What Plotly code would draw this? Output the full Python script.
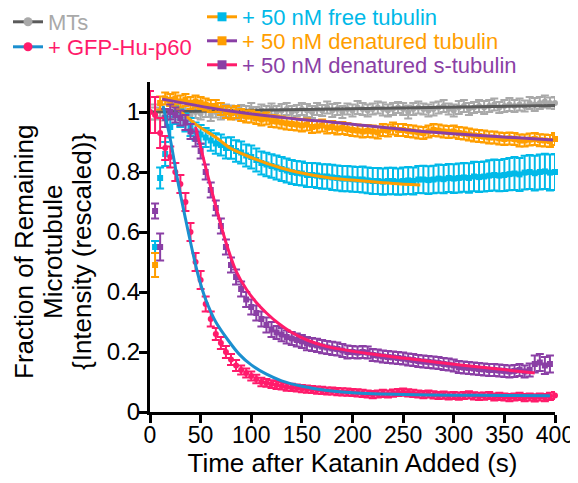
import plotly.graph_objects as go

# ---------------- data ----------------
t_mts = list(range(0, 405, 5))
mts = [1.000, 0.995, 1.005, 0.990, 1.000, 1.005, 0.995, 1.000, 0.990, 1.000,
       0.995, 1.005, 0.990, 1.000, 0.995, 1.005, 1.000, 0.995, 1.005, 1.000,
       1.010, 0.995, 1.005, 1.000, 1.010, 1.000, 1.005, 1.010, 1.000, 1.005,
       1.010, 1.005, 1.000, 1.010, 1.005, 1.015, 1.005, 1.010, 1.000, 1.010,
       1.005, 1.015, 1.010, 1.005, 1.010, 1.015, 1.010, 1.005, 1.010, 1.015,
       1.010, 1.000, 1.010, 1.015, 1.010, 1.005, 1.010, 1.015, 1.020, 1.010,
       1.005, 1.015, 1.020, 1.010, 1.015, 1.020, 1.015, 1.020, 1.025, 1.015,
       1.020, 1.025, 1.020, 1.025, 1.020, 1.030, 1.025, 1.030, 1.035, 1.030,
       1.030]
mts_err = [0.025, 0.020, 0.020, 0.018, 0.020, 0.022, 0.020, 0.018, 0.020, 0.020,
           0.020, 0.022, 0.020, 0.018, 0.020, 0.020, 0.022, 0.020, 0.018, 0.020,
           0.020, 0.022, 0.020, 0.020, 0.018, 0.020, 0.022, 0.020, 0.020, 0.018,
           0.020, 0.022, 0.020, 0.020, 0.018, 0.020, 0.022, 0.020, 0.020, 0.018,
           0.020, 0.022, 0.020, 0.020, 0.018, 0.020, 0.022, 0.020, 0.020, 0.018,
           0.020, 0.022, 0.020, 0.020, 0.018, 0.020, 0.022, 0.020, 0.020, 0.018,
           0.020, 0.022, 0.020, 0.020, 0.018, 0.020, 0.022, 0.020, 0.020, 0.018,
           0.020, 0.022, 0.020, 0.020, 0.018, 0.020, 0.022, 0.020, 0.020, 0.018,
           0.020]
t_mts_fit = [0, 400]
mts_fit = [1.000, 1.022]

t_p60 = list(range(0, 405, 5))
p60 = [1.000, 0.990, 0.930, 0.880, 0.850, 0.800, 0.760, 0.700, 0.600, 0.500,
       0.440, 0.360, 0.310, 0.260, 0.230, 0.200, 0.175, 0.155, 0.140, 0.130,
       0.120, 0.110, 0.100, 0.097, 0.093, 0.090, 0.087, 0.083, 0.082, 0.080,
       0.078, 0.076, 0.075, 0.073, 0.072, 0.070, 0.070, 0.068, 0.067, 0.066,
       0.065, 0.064, 0.062, 0.060, 0.058, 0.060, 0.062, 0.060, 0.063, 0.065,
       0.066, 0.064, 0.062, 0.060, 0.058, 0.060, 0.057, 0.055, 0.056, 0.054,
       0.055, 0.053, 0.055, 0.057, 0.054, 0.052, 0.053, 0.055, 0.050, 0.052,
       0.050, 0.048, 0.050, 0.052, 0.048, 0.050, 0.047, 0.050, 0.048, 0.052,
       0.055]
p60_err = [0.070, 0.060, 0.050, 0.040, 0.035, 0.030, 0.030, 0.030, 0.030, 0.030,
           0.030, 0.025, 0.025, 0.020, 0.020, 0.020, 0.018, 0.018, 0.015, 0.015,
           0.015, 0.014, 0.014, 0.013, 0.013, 0.013, 0.012, 0.012, 0.012, 0.012,
           0.012, 0.012, 0.012, 0.012, 0.012, 0.012, 0.012, 0.012, 0.012, 0.012,
           0.012, 0.012, 0.012, 0.012, 0.012, 0.012, 0.012, 0.012, 0.012, 0.012,
           0.012, 0.012, 0.012, 0.012, 0.012, 0.012, 0.012, 0.012, 0.012, 0.012,
           0.012, 0.012, 0.012, 0.012, 0.012, 0.012, 0.012, 0.012, 0.012, 0.012,
           0.012, 0.012, 0.012, 0.012, 0.012, 0.012, 0.012, 0.012, 0.012, 0.012,
           0.012]
t_p60_fit = [13, 20, 28, 35, 42, 48, 55, 65, 77, 88, 100, 115, 130, 150, 175, 200, 250, 300, 350, 395]
p60_fit = [1.02, 0.91, 0.76, 0.645, 0.535, 0.45, 0.375, 0.30, 0.24, 0.193, 0.157, 0.126, 0.104,
           0.086, 0.072, 0.064, 0.058, 0.056, 0.055, 0.054]

t_free = list(range(5, 405, 5))
free = [0.550, 0.780, 0.860, 0.950, 0.990, 0.980, 0.965, 0.950, 0.935,
        0.925, 0.915, 0.905, 0.895, 0.890, 0.880, 0.880, 0.870, 0.865, 0.855,
        0.850, 0.840, 0.830, 0.825, 0.820, 0.815, 0.810, 0.805, 0.800, 0.797,
        0.795, 0.790, 0.790, 0.788, 0.785, 0.785, 0.782, 0.780, 0.778, 0.778,
        0.776, 0.775, 0.775, 0.772, 0.770, 0.770, 0.768, 0.770, 0.770, 0.768,
        0.770, 0.772, 0.770, 0.775, 0.775, 0.773, 0.775, 0.778, 0.776, 0.780,
        0.778, 0.780, 0.782, 0.780, 0.785, 0.783, 0.785, 0.788, 0.790, 0.788,
        0.790, 0.793, 0.795, 0.792, 0.798, 0.800, 0.796, 0.800, 0.802, 0.798,
        0.800]
free_err = [0.020, 0.035, 0.040, 0.035, 0.030, 0.030, 0.030, 0.030, 0.030,
            0.032, 0.032, 0.034, 0.034, 0.035, 0.035, 0.036, 0.036, 0.037, 0.037,
            0.038, 0.038, 0.038, 0.039, 0.039, 0.040, 0.040, 0.040, 0.040, 0.040,
            0.040, 0.040, 0.040, 0.041, 0.041, 0.041, 0.042, 0.042, 0.042, 0.042,
            0.042, 0.042, 0.043, 0.043, 0.043, 0.043, 0.044, 0.044, 0.044, 0.044,
            0.045, 0.045, 0.045, 0.045, 0.046, 0.046, 0.046, 0.047, 0.047, 0.047,
            0.048, 0.048, 0.048, 0.049, 0.049, 0.050, 0.050, 0.051, 0.052, 0.052,
            0.053, 0.054, 0.055, 0.055, 0.056, 0.057, 0.058, 0.058, 0.059, 0.060,
            0.060]
t_free_fit = [13, 26, 46, 66, 79, 95, 112, 128, 145, 178, 211, 240, 267]
free_fit = [1.045, 1.013, 0.957, 0.913, 0.88, 0.855, 0.833, 0.815, 0.80, 0.78, 0.77, 0.762, 0.757]

t_den = list(range(5, 405, 5))
den = [0.490, 1.030, 1.045, 1.040, 1.045, 1.035, 1.040, 1.030, 1.035,
       1.030, 1.025, 1.020, 1.020, 1.010, 1.000, 0.995, 1.000, 0.990, 0.985,
       0.985, 0.980, 0.975, 0.978, 0.970, 0.968, 0.965, 0.962, 0.960, 0.958,
       0.955, 0.958, 0.950, 0.952, 0.955, 0.948, 0.950, 0.945, 0.947, 0.943,
       0.940, 0.938, 0.935, 0.937, 0.935, 0.932, 0.940, 0.938, 0.945, 0.940,
       0.940, 0.937, 0.935, 0.932, 0.930, 0.935, 0.940, 0.938, 0.935, 0.933,
       0.935, 0.930, 0.928, 0.925, 0.922, 0.920, 0.918, 0.915, 0.915, 0.912,
       0.910, 0.912, 0.910, 0.905, 0.905, 0.908, 0.910, 0.906, 0.905, 0.903,
       0.910]
den_err = [0.040, 0.022, 0.020, 0.020, 0.020, 0.020, 0.020, 0.020, 0.020,
           0.020, 0.020, 0.020, 0.020, 0.020, 0.020, 0.020, 0.020, 0.020, 0.020,
           0.020, 0.020, 0.020, 0.020, 0.020, 0.020, 0.020, 0.020, 0.020, 0.020,
           0.020, 0.020, 0.020, 0.020, 0.020, 0.020, 0.020, 0.020, 0.020, 0.020,
           0.020, 0.020, 0.020, 0.020, 0.020, 0.020, 0.020, 0.020, 0.020, 0.020,
           0.020, 0.020, 0.020, 0.020, 0.020, 0.020, 0.020, 0.020, 0.020, 0.020,
           0.020, 0.020, 0.020, 0.020, 0.020, 0.020, 0.020, 0.020, 0.020, 0.020,
           0.020, 0.020, 0.020, 0.020, 0.020, 0.020, 0.020, 0.020, 0.020, 0.020,
           0.020]
t_den_fit = [12, 79, 149, 178, 277, 398]
den_fit = [1.043, 1.003, 0.975, 0.967, 0.933, 0.907]

t_sden = list(range(5, 400, 5))
sden = [0.670, 0.550, 0.980, 1.000, 0.990, 0.980, 0.965, 0.935, 0.910,
        0.870, 0.800, 0.740, 0.680, 0.620, 0.550, 0.490, 0.450, 0.410, 0.375,
        0.350, 0.330, 0.310, 0.290, 0.275, 0.265, 0.258, 0.250, 0.245, 0.240,
        0.235, 0.228, 0.225, 0.222, 0.218, 0.215, 0.212, 0.210, 0.205, 0.200,
        0.200, 0.198, 0.200, 0.198, 0.190, 0.188, 0.185, 0.183, 0.182, 0.180,
        0.178, 0.175, 0.173, 0.170, 0.168, 0.167, 0.165, 0.163, 0.160, 0.158,
        0.155, 0.150, 0.148, 0.147, 0.145, 0.143, 0.142, 0.140, 0.140, 0.138,
        0.137, 0.135, 0.137, 0.140, 0.135, 0.140, 0.160, 0.165, 0.155, 0.160]
sden_err = [0.025, 0.045, 0.030, 0.025, 0.025, 0.025, 0.025, 0.025, 0.025,
            0.025, 0.025, 0.025, 0.025, 0.025, 0.025, 0.025, 0.025, 0.025, 0.025,
            0.025, 0.025, 0.025, 0.025, 0.025, 0.022, 0.022, 0.022, 0.022, 0.022,
            0.022, 0.022, 0.022, 0.022, 0.022, 0.022, 0.022, 0.022, 0.022, 0.022,
            0.020, 0.020, 0.020, 0.020, 0.020, 0.020, 0.020, 0.020, 0.020, 0.020,
            0.020, 0.020, 0.020, 0.020, 0.020, 0.020, 0.020, 0.020, 0.020, 0.020,
            0.020, 0.020, 0.020, 0.020, 0.020, 0.020, 0.020, 0.020, 0.020, 0.020,
            0.020, 0.020, 0.020, 0.020, 0.020, 0.022, 0.028, 0.028, 0.028, 0.028]
t_sden_fit = [45, 55, 65, 75, 85, 95, 105, 115, 127, 140, 155, 175, 215, 250, 281, 330, 380]
sden_fit = [0.95, 0.815, 0.685, 0.565, 0.47, 0.41, 0.365, 0.33, 0.295, 0.265, 0.24, 0.218,
            0.195, 0.18, 0.167, 0.148, 0.13]

x_ticks = [0, 50, 100, 150, 200, 250, 300, 350, 400]
y_ticks = [0, 0.2, 0.4, 0.6, 0.8, 1.0]
y_ticktext = ["0", "0.2", "0.4", "0.6", "0.8", "1"]

# ---------------- colours ----------------
C_GRAY = "#a9a9a9"
C_DGRAY = "#5a5a5a"
C_PINK = "#ff1b6b"
C_BLUE = "#1b8fcf"
C_CYAN = "#00b9e8"
C_ORANGE = "#ff9e00"
C_PURPLE = "#8a3fa5"

FONT = "Liberation Sans, Arial, Helvetica, sans-serif"

fig = go.Figure()


def data_trace(x, y, err, color, symbol):
    return go.Scatter(
        x=x, y=y, mode="markers", showlegend=False, cliponaxis=False,
        marker=dict(color=color, size=6, symbol=symbol),
        error_y=dict(type="data", array=err, color=color, thickness=2, width=4),
        hoverinfo="x+y",
    )


def fit_trace(x, y, color):
    return go.Scatter(
        x=x, y=y, mode="lines", showlegend=False, cliponaxis=False,
        line=dict(color=color, width=3, shape="spline", smoothing=0.8),
        hoverinfo="skip",
    )


fig.add_trace(data_trace(t_mts, mts, mts_err, C_GRAY, "circle"))
fig.add_trace(fit_trace(t_mts_fit, mts_fit, C_DGRAY))
fig.add_trace(data_trace(t_free, free, free_err, C_CYAN, "square"))
fig.add_trace(fit_trace(t_free_fit, free_fit, C_ORANGE))
fig.add_trace(data_trace(t_den, den, den_err, C_ORANGE, "square"))
fig.add_trace(fit_trace(t_den_fit, den_fit, C_PURPLE))
fig.add_trace(data_trace(t_sden, sden, sden_err, C_PURPLE, "square"))
fig.add_trace(fit_trace(t_sden_fit, sden_fit, C_PINK))
fig.add_trace(data_trace(t_p60, p60, p60_err, C_PINK, "circle"))
fig.add_trace(fit_trace(t_p60_fit, p60_fit, C_BLUE))

# legend entries (one legend per entry for exact placement)
legend_entries = [
    ("MTs", C_DGRAY, C_GRAY, "circle", "legend"),
    ("+ GFP-Hu-p60", C_BLUE, C_PINK, "circle", "legend2"),
    ("+ 50 nM free tubulin", C_ORANGE, C_CYAN, "square", "legend3"),
    ("+ 50 nM denatured tubulin", C_PURPLE, C_ORANGE, "square", "legend4"),
    ("+ 50 nM denatured s-tubulin", C_PINK, C_PURPLE, "square", "legend5"),
]
for name, lc, mc, sym, lg in legend_entries:
    fig.add_trace(go.Scatter(
        x=[None], y=[None], mode="lines+markers", name=name, legend=lg,
        line=dict(color=lc, width=3), marker=dict(color=mc, size=9, symbol=sym),
    ))

# page offset: the page body has an 8 px margin
OFF = 8
PL, PR, PT, PB = 150, 555, 82, 412   # plot area in page pixels


def px_to_paper_x(px):
    return (px - PL) / float(PR - PL)


def px_to_paper_y(py):
    return (PB - py) / float(PB - PT)


def leg(px, py, color):
    return dict(x=px_to_paper_x(px), y=px_to_paper_y(py), xanchor="left", yanchor="middle",
                bgcolor="rgba(0,0,0,0)", borderwidth=0, itemwidth=30,
                font=dict(family=FONT, size=22, color=color))


fig.update_layout(
    width=578 - OFF, height=483 - OFF,
    margin=dict(l=PL - OFF, r=578 - PR, t=PT - OFF, b=483 - PB, autoexpand=False),
    plot_bgcolor="white", paper_bgcolor="white",
    font=dict(family=FONT, color="black"),
    legend=leg(8, 22, C_GRAY),
    legend2=leg(8, 47, C_PINK),
    legend3=leg(202, 17, C_CYAN),
    legend4=leg(202, 41, C_ORANGE),
    legend5=leg(202, 65, C_PURPLE),
    xaxis=dict(
        range=[0, 400], tickvals=x_ticks, showgrid=False, zeroline=False,
        showline=True, linewidth=3, linecolor="black",
        ticks="outside", ticklen=8, tickwidth=3, tickcolor="black",
        tickfont=dict(size=23, family=FONT, color="black"),
        ticklabelstandoff=-8,
        title=dict(text="Time after Katanin Added (s)", font=dict(size=26, family=FONT), standoff=7),
        automargin=False,
    ),
    yaxis=dict(
        range=[0, 1.1], tickvals=y_ticks, ticktext=y_ticktext, showgrid=False, zeroline=False,
        showline=True, linewidth=3, linecolor="black",
        ticks="outside", ticklen=8, tickwidth=3, tickcolor="black",
        tickfont=dict(size=24, family=FONT, color="black"),
        ticklabelstandoff=-6,
        automargin=False,
    ),
)

for text, px in [("Fraction of Remaining", 24), ("Microtubule", 53), ("{Intensity (rescaled)}", 82)]:
    fig.add_annotation(
        text=text, x=px_to_paper_x(px), y=px_to_paper_y(252), xref="paper", yref="paper",
        xanchor="center", yanchor="middle", textangle=-90, showarrow=False,
        font=dict(size=26, family=FONT, color="black"),
    )

fig.write_html("out.html")
